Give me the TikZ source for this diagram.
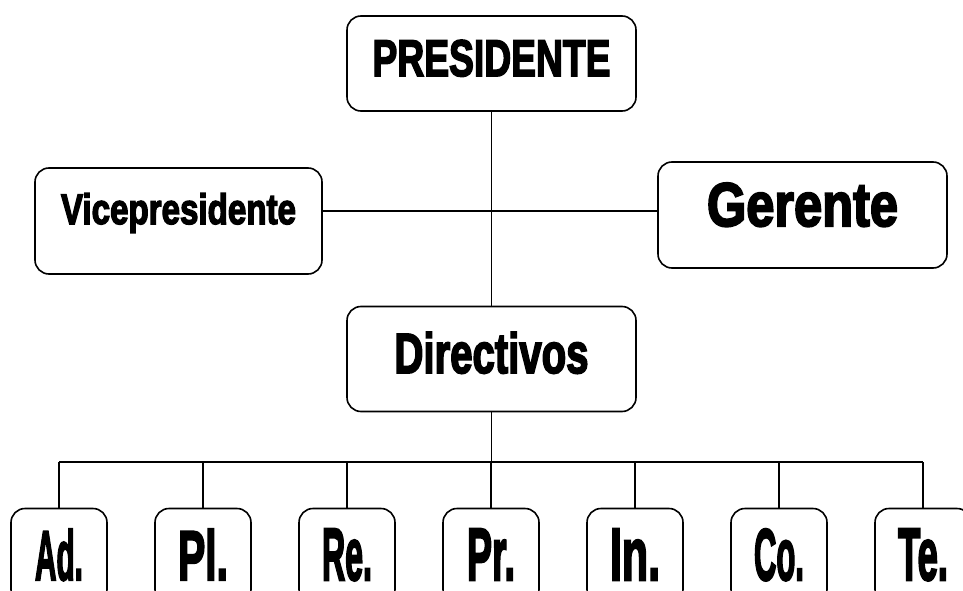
\documentclass[tikz,border=0pt]{standalone}
\usepackage{fontspec}
\setmainfont{Liberation Sans}
\newfontfamily\orgfont[BoldFeatures={FakeBold=3.5}]{Liberation Sans}
\newcommand{\lbl}[3]{\resizebox{#1pt}{#2pt}{\orgfont\bfseries #3}}
\begin{document}
\begin{tikzpicture}[x=1pt,y=-1pt,
  box/.style={draw, line width=1.6pt, rounded corners=14pt, inner sep=0pt, align=center, fill=white},
  top/.style={box, minimum width=289pt, minimum height=95pt},
  leaf/.style={box, minimum width=96pt, minimum height=95pt, text height=51pt, text depth=3pt},
  conn/.style={line width=1.4pt}]
\useasboundingbox (0,0) rectangle (963,591);
\node[top, text height=36pt, text depth=11pt] (pres) at (491.5,63.5) {\lbl{238}{36}{PRESIDENTE}};
\node[top, minimum width=287pt, minimum height=106pt, text height=31pt, text depth=25pt] (vice) at (178.5,221) {\lbl{235}{31}{Vicepresidente}};
\node[top, minimum height=106pt, text height=43pt, text depth=21pt] (ger) at (802.5,215) {\lbl{191}{43}{Gerente}};
\node[top, minimum height=105pt, text height=41pt, text depth=13pt] (dir) at (491.5,359) {\lbl{194}{41}{Directivos}};
\node[leaf] (c1) at (59,556) {\lbl{48}{51}{Ad.}};
\node[leaf] (c2) at (203,556) {\lbl{50}{51}{Pl.}};
\node[leaf] (c3) at (347,556) {\lbl{50}{51}{Re.}};
\node[leaf] (c4) at (491,556) {\lbl{48}{51}{Pr.}};
\node[leaf] (c5) at (635,556) {\lbl{50}{51}{In.}};
\node[leaf] (c6) at (779,556) {\lbl{50}{51}{Co.}};
\node[leaf] (c7) at (923,556) {\lbl{50}{51}{Te.}};
\coordinate (hl) at (491.5,211);
\coordinate (bus) at (491.5,462);
\draw[conn] (pres.south) -- (dir.north);
\draw[conn] (vice.east |- hl) -- (ger.west |- hl);
\draw[conn] (dir.south) -- (bus);
\draw[conn] (c1.north |- bus) -- (c7.north |- bus);
\foreach \c in {c1,c2,c3,c4,c5,c6,c7}{\draw[conn] (\c.north |- bus) -- (\c.north);}
\end{tikzpicture}
\end{document}
